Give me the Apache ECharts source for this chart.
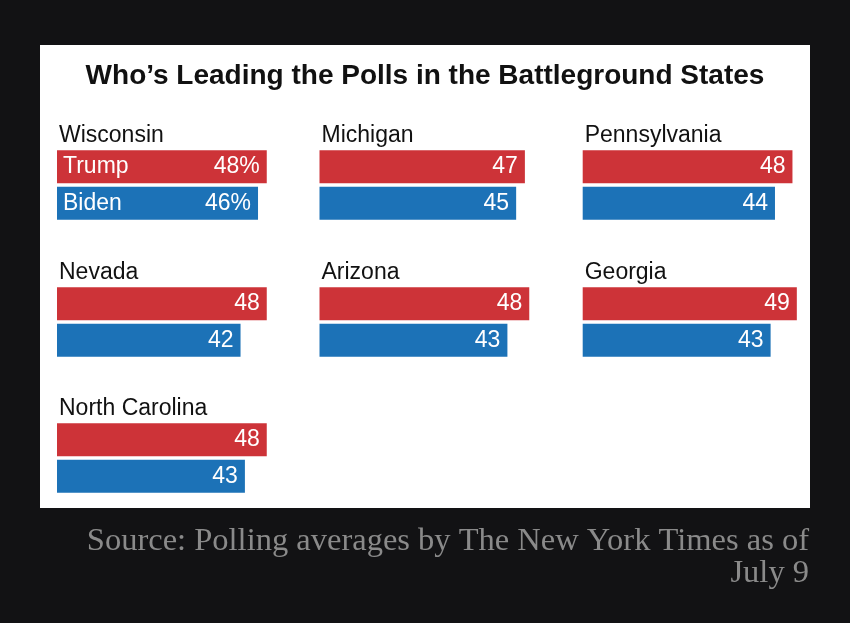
<!DOCTYPE html>
<html>
<head>
<meta charset="utf-8">
<script src="https://cdn.jsdelivr.net/npm/echarts@6/dist/echarts.min.js"></script>
<style>
html,body{margin:0;padding:0;background:#121214;}
#chart{width:850px;height:623px;}
</style>
</head>
<body>
<div id="chart"></div>
<script>
const chartTitle = "Who\u2019s Leading the Polls in the Battleground States";
const states = ["Wisconsin", "Michigan", "Pennsylvania", "Nevada", "Arizona", "Georgia", "North Carolina"];
const candidates = ["Trump", "Biden"];
const trump = [48, 47, 48, 48, 48, 49, 48];
const biden = [46, 45, 44, 42, 43, 43, 43];
const sourceLines = ["Source: Polling averages by The New York Times as of", "July 9"];

const RED = '#cd3338';
const BLUE = '#1c72b7';
const colLeft = [57, 319.5, 582.7];
const rowTop = [148.5, 285.5, 421.5];
const gridW = 218.5;   // 0..50
const gridH = 73;
const labelFont = "'Liberation Sans', Arial, sans-serif";

const chart = echarts.init(document.getElementById('chart'), null, {renderer: 'canvas'});

const grids = [], xAxes = [], yAxes = [], series = [], titles = [];

titles.push({
  text: chartTitle,
  left: 'center',
  top: 62,
  padding: 0,
  textStyle: {fontFamily: "'Liberation Sans', Arial, sans-serif", fontWeight: 'bold', fontSize: 28, color: '#111'}
});

states.forEach((st, i) => {
  const col = i % 3, row = Math.floor(i / 3);
  grids.push({left: colLeft[col], top: rowTop[row], width: gridW, height: gridH, containLabel: false});
  xAxes.push({gridIndex: i, type: 'value', min: 0, max: 50, show: false, splitLine: {show: false}});
  yAxes.push({gridIndex: i, type: 'category', data: candidates, inverse: true, show: false});
  const pct = i === 0 ? '%' : '';
  series.push({
    type: 'bar',
    xAxisIndex: i, yAxisIndex: i,
    barWidth: 33,
    silent: true,
    data: [
      {value: trump[i], itemStyle: {color: RED}},
      {value: biden[i], itemStyle: {color: BLUE}}
    ],
    label: {
      show: true, position: 'insideRight', distance: 7,
      color: '#fff', fontSize: 23, fontFamily: labelFont,
      formatter: p => p.value + pct
    }
  });
  if (i === 0) {
    series.push({
      type: 'bar',
      xAxisIndex: i, yAxisIndex: i,
      barWidth: 33, barGap: '-100%',
      silent: true,
      z: 3,
      data: [trump[i], biden[i]],
      itemStyle: {color: 'rgba(0,0,0,0)'},
      label: {
        show: true, position: 'insideLeft', distance: 6,
        color: '#fff', fontSize: 23, fontFamily: labelFont,
        formatter: p => p.name
      }
    });
  }
  titles.push({
    text: st,
    left: colLeft[col] + 2,
    top: rowTop[row] - 24,
    padding: 0,
    textStyle: {fontFamily: labelFont, fontWeight: 'normal', fontSize: 23, color: '#111'}
  });
});

chart.setOption({
  backgroundColor: '#121214',
  animation: false,
  title: titles,
  grid: grids,
  xAxis: xAxes,
  yAxis: yAxes,
  series: series,
  graphic: [
    {type: 'rect', z: -10, shape: {x: 40, y: 45, width: 770, height: 463}, style: {fill: '#ffffff'}},
    {type: 'text', z: 10, x: 809, y: 541, style: {text: sourceLines[0], fill: '#8a8a8a', font: "32.5px 'Liberation Serif', 'DejaVu Serif', serif", textAlign: 'right', textVerticalAlign: 'middle', align: 'right', verticalAlign: 'middle'}},
    {type: 'text', z: 10, x: 809, y: 573, style: {text: sourceLines[1], fill: '#8a8a8a', font: "32.5px 'Liberation Serif', 'DejaVu Serif', serif", textAlign: 'right', textVerticalAlign: 'middle', align: 'right', verticalAlign: 'middle'}}
  ]
});
</script>
</body>
</html>
